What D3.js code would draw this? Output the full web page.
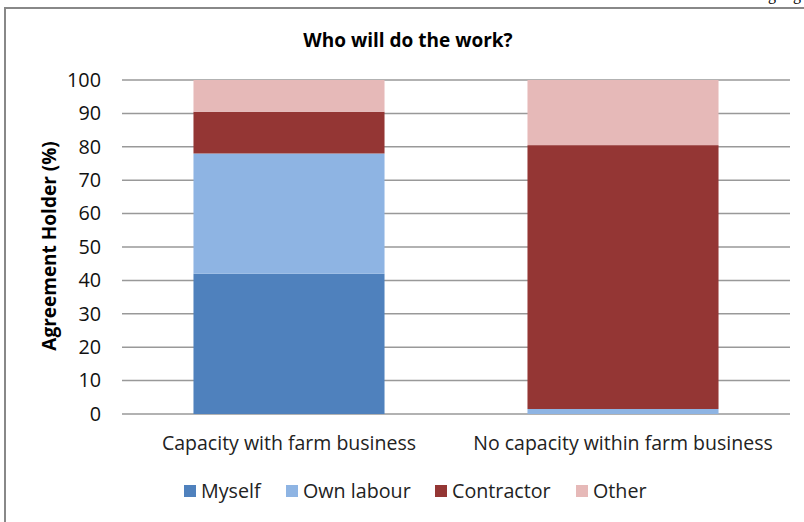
<!DOCTYPE html>
<html><head><meta charset="utf-8">
<script src="https://cdn.jsdelivr.net/npm/d3@7"></script>
<style>body{margin:0;background:#fff}svg{display:block}text{font-family:"Open Sans",Lato,sans-serif}</style>
</head><body>
<svg id="c" width="804" height="522"></svg>
<script>
const categories = ["Capacity with farm business", "No capacity within farm business"];
const seriesNames = ["Myself", "Own labour", "Contractor", "Other"];
const myself = [42, 0];
const ownLabour = [36, 1.5];
const contractor = [12.5, 79];
const other = [9.5, 19.5];
const yTicks = [0, 10, 20, 30, 40, 50, 60, 70, 80, 90, 100];
const colors = ["#4F81BD", "#8EB4E3", "#943634", "#E6B9B8"];

const rows = categories.map((c, i) => ({cat: c, "Myself": myself[i], "Own labour": ownLabour[i], "Contractor": contractor[i], "Other": other[i]}));
const stack = d3.stack().keys(seriesNames)(rows);

const svg = d3.select("#c");
// page frame
svg.append("line").attr("x1", 4).attr("x2", 804).attr("y1", 8).attr("y2", 8).attr("stroke", "#888").attr("stroke-width", 2);
svg.append("line").attr("x1", 5).attr("x2", 5).attr("y1", 8).attr("y2", 522).attr("stroke", "#888").attr("stroke-width", 2);
svg.append("text").attr("x", 768).attr("y", 0).style("font-family", "Liberation Serif").attr("font-size", 16).text("g");
svg.append("text").attr("x", 793).attr("y", 0).style("font-family", "Liberation Serif").attr("font-size", 16).text("g");

const x = d3.scaleBand().domain(categories).range([122, 790]).paddingInner(0.428).paddingOuter(0.214);
const y = d3.scaleLinear().domain([0, 100]).range([414, 80]);

// gridlines
svg.append("g").selectAll("line").data(yTicks).join("line")
  .attr("x1", 122).attr("x2", 790).attr("y1", d => y(d)).attr("y2", d => y(d))
  .attr("stroke", "#999").attr("stroke-width", 1.5);

// bars
svg.append("g").selectAll("g").data(stack).join("g").attr("fill", (d, i) => colors[i])
  .selectAll("rect").data(d => d).join("rect")
  .attr("x", d => x(d.data.cat)).attr("width", x.bandwidth())
  .attr("y", d => y(d[1])).attr("height", d => y(d[0]) - y(d[1]));

// y axis labels
const yAxis = d3.axisLeft(y).tickValues(yTicks).tickSize(0).tickPadding(0);
const ya = svg.append("g").attr("transform", "translate(101,0)").call(yAxis);
ya.select(".domain").remove();
ya.selectAll("text").attr("font-size", 19.8).attr("fill", "#111").style("font-family", "'Open Sans'");

// x axis labels
const xAxis = d3.axisBottom(x).tickSize(0).tickPadding(0);
const xa = svg.append("g").attr("transform", "translate(0,450)").call(xAxis);
xa.select(".domain").remove();
xa.selectAll("text").attr("font-size", 19.5).attr("fill", "#222").attr("dy", "0").style("font-family", "'Open Sans'");

// title
svg.append("text").attr("x", 408).attr("y", 47).attr("text-anchor", "middle")
  .attr("font-size", 19).attr("font-weight", "bold").attr("fill", "#000").text("Who will do the work?");

// y title
svg.append("text").attr("transform", "translate(56,246) rotate(-90)").attr("text-anchor", "middle")
  .attr("font-size", 19).attr("font-weight", "bold").attr("fill", "#000").text("Agreement Holder (%)");

// legend
const legX = [184, 286, 435, 576];
const leg = svg.append("g").selectAll("g").data(seriesNames).join("g")
  .attr("transform", (d, i) => `translate(${legX[i]},485)`);
leg.append("rect").attr("width", 12).attr("height", 12).attr("fill", (d, i) => colors[i]);
leg.append("text").attr("x", 17).attr("y", 12.5).attr("font-size", 19.7).attr("fill", "#222").text(d => d);
</script>
</body></html>
